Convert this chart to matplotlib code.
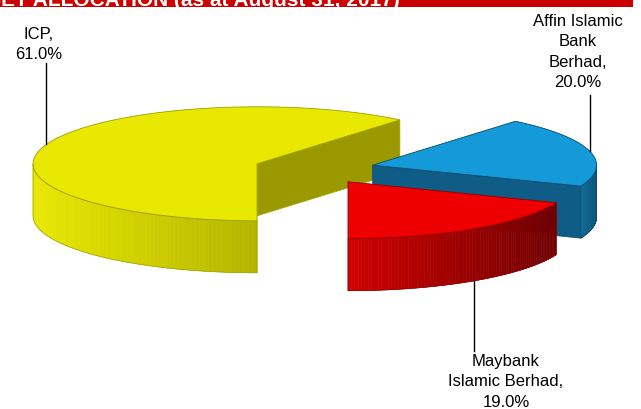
import numpy as np
import matplotlib
matplotlib.use("Agg")
import matplotlib.pyplot as plt
from matplotlib.patches import Polygon, Rectangle
from matplotlib.colors import to_rgb

plt.rcParams['font.family'] = ['Liberation Sans', 'DejaVu Sans']

# data
labels = ["ICP", "Affin Islamic\nBank\nBerhad", "Maybank\nIslamic Berhad"]
values = [61.0, 20.0, 19.0]
title = "ASSET ALLOCATION (as at August 31, 2017)"

# colours per slice
top_colors = ["#e8e800", "#149ad8", "#ee0000"]
side_light = ["#e8e800", "#136c98", "#d00000"]
side_dark = ["#b4b400", "#0c5578", "#700000"]
cut_colors = ["#9a9a00", "#0f5d86", "#8a0000"]
edge_colors = ["#a0a000", "#0a4a6a", "#900000"]

# layout (pixels)
W, H = 641, 409
cx, cy = 314, 169
rx, ry = 224, 57
depth = 52
explode = 0.27
start = 180.0
lab_pos = [(39, 62), (578, 90), (506, 354)]
lab_va = ["bottom", "bottom", "top"]
line_end = [63, 95, 351]

fig = plt.figure(figsize=(W / 100, H / 100), dpi=100)
ax = fig.add_axes([0, 0, 1, 1])
ax.set_xlim(0, W)
ax.set_ylim(H, 0)
ax.axis("off")


def rim(x0, y0, th):
    t = np.radians(th)
    return x0 + rx * np.sin(t), y0 - ry * np.cos(t)


fracs = np.array(values) / sum(values)
bounds = start + 360 * np.concatenate([[0], np.cumsum(fracs)])

wedges = []
for i in range(len(values)):
    t0, t1 = bounds[i], bounds[i + 1]
    mid = (t0 + t1) / 2
    m = np.radians(mid)
    ox = cx + explode * rx * np.sin(m)
    oy = cy - explode * ry * np.cos(m)
    wedges.append((i, t0, t1, mid, ox, oy))

# paint back to front
for i, t0, t1, mid, ox, oy in sorted(wedges, key=lambda w: -np.cos(np.radians(w[3]))):
    # cut faces
    for t, vis in ((t0, np.sin(np.radians(t0)) < -1e-6), (t1, np.sin(np.radians(t1)) > 1e-6)):
        if vis:
            px, py = rim(ox, oy, t)
            ax.add_patch(Polygon([(ox, oy), (px, py), (px, py + depth), (ox, oy + depth)],
                                 closed=True, fc=cut_colors[i], ec=edge_colors[i], lw=0.5))
    # outer curved side (front half only)
    for lo, hi in ((90, 270), (450, 630)):
        s, e = max(t0, lo), min(t1, hi)
        if e <= s:
            continue
        th = np.linspace(s, e, 80)
        xs, ys = rim(ox, oy, th)
        xmin, xmax = xs.min(), xs.max()
        c0, c1 = np.array(to_rgb(side_light[i])), np.array(to_rgb(side_dark[i]))
        for k in range(len(th) - 1):
            f = ((xs[k] + xs[k + 1]) / 2 - xmin) / max(xmax - xmin, 1)
            col = c0 * (1 - f) + c1 * f
            quad = [(xs[k], ys[k]), (xs[k + 1], ys[k + 1]),
                    (xs[k + 1], ys[k + 1] + depth), (xs[k], ys[k] + depth)]
            ax.add_patch(Polygon(quad, closed=True, fc=col, ec=col, lw=0.4))
        outline = list(zip(xs, ys)) + list(zip(xs[::-1], ys[::-1] + depth))
        ax.add_patch(Polygon(outline, closed=True, fill=False, ec=edge_colors[i], lw=0.5))
    # top face
    th = np.linspace(t0, t1, 200)
    xs, ys = rim(ox, oy, th)
    pts = [(ox, oy)] + list(zip(xs, ys))
    ax.add_patch(Polygon(pts, closed=True, fc=top_colors[i], ec=edge_colors[i], lw=0.6))

# labels with leader lines
for (i, t0, t1, mid, ox, oy) in wedges:
    px, py = rim(ox, oy, mid)
    if lab_va[i] == "top":
        py = py + depth
    ax.plot([px, px], [py, line_end[i]], color="black", lw=1)
    ax.text(lab_pos[i][0], lab_pos[i][1], f"{labels[i]},\n{values[i]:.1f}%",
            ha="center", va=lab_va[i], multialignment="center",
            fontsize=12, linespacing=1.45, color="black")

# clipped title bar
ax.add_patch(Rectangle((0, 0), 633, 7.3, fc="#cc0000", ec="none", clip_on=False))
ax.text(400, 6.5, title, ha="right", va="baseline", color="white",
        fontsize=15, fontweight="bold", clip_on=False)

fig.savefig("out.png", dpi=100)
